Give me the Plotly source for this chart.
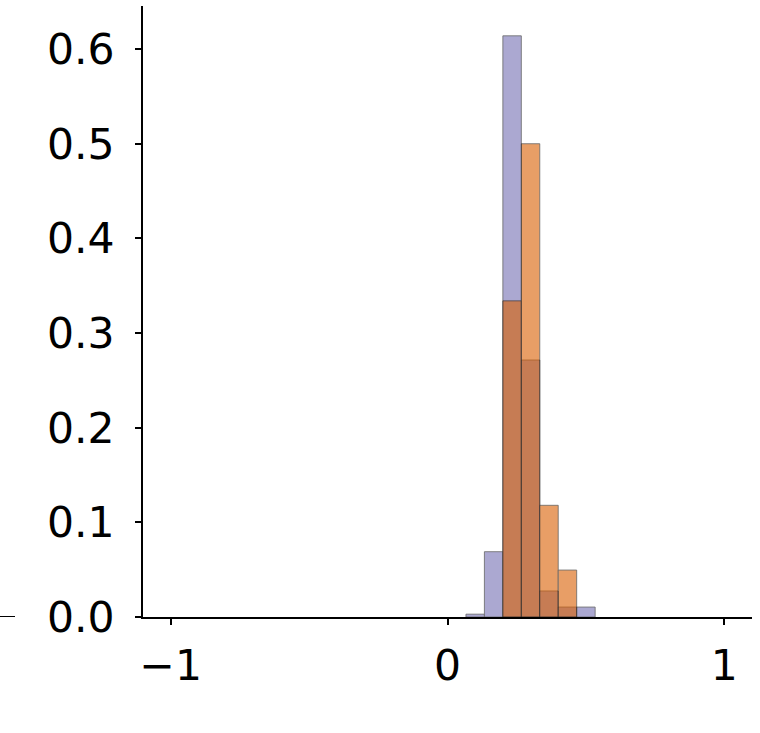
import numpy as np
import plotly.graph_objects as go

# Histogram data (probability per bin), bins of width 1/15 on [-1, 1]
bin_width = 2 / 30
purple_left_edges = [0.0667, 0.1333, 0.2000, 0.2667, 0.3333, 0.4000, 0.4667]
purple_heights = [0.003, 0.069, 0.614, 0.2715, 0.0275, 0.0105, 0.0105]
orange_left_edges = [0.2000, 0.2667, 0.3333, 0.4000]
orange_heights = [0.334, 0.500, 0.118, 0.0496]

x_ticks = [-1, 0, 1]
y_ticks = [0.0, 0.1, 0.2, 0.3, 0.4, 0.5, 0.6]

purple_color = "#7570b3"
orange_color = "#d95f02"

fig = go.Figure()
fig.add_trace(go.Bar(
    x=[e + bin_width / 2 for e in purple_left_edges],
    y=purple_heights,
    width=bin_width,
    marker=dict(color=purple_color, line=dict(color="black", width=0.8)),
    opacity=0.6,
    showlegend=False,
))
fig.add_trace(go.Bar(
    x=[e + bin_width / 2 for e in orange_left_edges],
    y=orange_heights,
    width=bin_width,
    marker=dict(color=orange_color, line=dict(color="black", width=0.8)),
    opacity=0.6,
    showlegend=False,
))

font = dict(family="DejaVu Sans", size=42.5, color="black")

fig.update_layout(
    barmode="overlay",
    width=760, height=733,
    margin=dict(l=143, r=8, t=6, b=116),
    plot_bgcolor="white",
    paper_bgcolor="white",
    font=font,
    xaxis=dict(
        range=[-1.1, 1.1],
        tickvals=x_ticks,
        ticktext=["\u22121", "0", "1"],
        ticks="outside", ticklen=6, tickwidth=2, tickcolor="black",
        showline=True, linecolor="black", linewidth=2,
        showgrid=False, zeroline=False,
        tickfont=font,
        ticklabelstandoff=4,
    ),
    yaxis=dict(
        range=[0, 0.6455],
        tickvals=y_ticks,
        ticktext=[f"{v:.1f}" for v in y_ticks],
        ticks="outside", ticklen=6, tickwidth=2, tickcolor="black",
        showline=True, linecolor="black", linewidth=2,
        showgrid=False, zeroline=False,
        tickfont=font,
        ticklabelstandoff=12,
    ),
    shapes=[dict(
        type="line", xref="paper", yref="y",
        x0=-143 / 609, x1=-128 / 609, y0=0, y1=0,
        line=dict(color="black", width=2),
    )],
)

fig.write_html("out.html")
